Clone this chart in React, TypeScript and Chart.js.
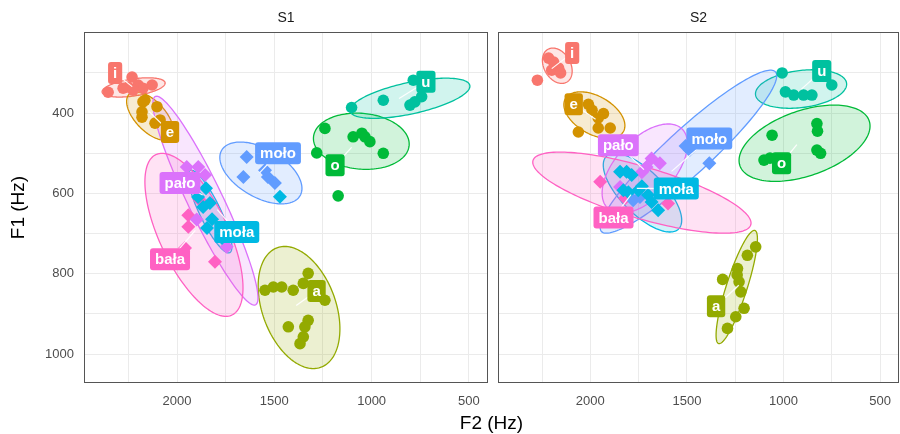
import React, { useEffect, useRef } from 'react';
import { Chart, registerables } from 'chart.js';
Chart.register(...registerables);

const FONT = '"Liberation Sans", Arial, Helvetica, sans-serif';
Chart.defaults.font.family = FONT;

const GROUPS = ['i', 'e', 'a', 'o', 'u', 'moła', 'moło', 'pało', 'bała'];
const COLORS = ['#F8766D', '#D39200', '#93AA00', '#00BA38', '#00C19F', '#00B9E3', '#619CFF', '#DB72FB', '#FF61C3'];
const SHAPES = ['circle', 'circle', 'circle', 'circle', 'circle', 'rectRot', 'rectRot', 'rectRot', 'rectRot'];

const X_TICKS = [2250, 2000, 1750, 1500, 1250, 1000, 750, 500];
const X_MAJOR = [2000, 1500, 1000, 500];
const Y_TICKS = [300, 400, 500, 600, 700, 800, 900, 1000];
const Y_MAJOR = [400, 600, 800, 1000];

// ---- S1 points [F2, F1] ----
const S1_I = [[2354, 348], [2277, 338], [2231, 310], [2252, 335], [2200, 330], [2175, 338], [2128, 330], [2226, 343]];
const S1_E = [[2175, 372], [2165, 368], [2180, 397], [2103, 384], [2180, 410], [2113, 425], [2087, 417]];
const S1_A = [[1548, 841], [1505, 833], [1462, 833], [1403, 841], [1351, 824], [1326, 799], [1240, 866], [1428, 932], [1326, 916], [1343, 932], [1351, 957], [1368, 974]];
const S1_O = [[1240, 438], [1282, 499], [1095, 459], [1050, 450], [1034, 459], [1009, 471], [940, 500], [1172, 606]];
const S1_U = [[1103, 386], [940, 368], [803, 380], [778, 372], [743, 359], [786, 318]];
const S1_MOLA = [[1851, 587], [1892, 609], [1831, 624], [1866, 634], [1820, 664], [1846, 686], [1769, 711], [1471, 608]];
const S1_MOLO = [[1642, 509], [1659, 559], [1548, 542], [1533, 559], [1497, 574]];
const S1_PALO = [[1950, 534], [1891, 534], [1899, 665], [1745, 733], [1856, 554]];
const S1_BALA = [[1942, 654], [1942, 683], [1959, 736], [1805, 770], [1882, 617]];

// ---- S2 points [F2, F1] ----
const S2_I = [[2274, 318], [2216, 263], [2190, 273], [2164, 288], [2200, 293], [2154, 300]];
const S2_E = [[1991, 393], [1932, 401], [1959, 412], [1959, 437], [1897, 437], [2062, 447], [2010, 378]];
const S2_A = [[1144, 733], [1187, 754], [1238, 787], [1240, 803], [1230, 820], [1315, 814], [1221, 845], [1204, 886], [1247, 907], [1290, 936]];
const S2_O = [[1059, 455], [1101, 517], [1070, 512], [827, 426], [824, 445], [827, 492], [808, 500]];
const S2_U = [[1007, 300], [990, 347], [947, 355], [896, 355], [853, 355], [750, 330]];
const S2_MOLA = [[1846, 546], [1812, 546], [1786, 554], [1829, 592], [1803, 597], [1752, 592], [1733, 582], [1701, 604], [1683, 621], [1649, 642]];
const S2_MOLO = [[1486, 492], [1384, 525], [1778, 617], [1507, 482], [1743, 609]];
const S2_PALO = [[1683, 513], [1640, 525], [1709, 534], [1733, 547], [1846, 584]];
const S2_BALA = [[1949, 571], [1598, 625], [1820, 612]];

// ---- ellipses [centre F2, centre F1, half-range F2, half-range F1, correlation] ----
const S1_ELLIPSES = [
  [2223, 336, 162, 24, 0.45],
  [2139, 407, 120, 60, -0.6],
  [1373, 884, 210, 152, -0.35],
  [1053, 470, 246, 70, -0.1],
  [803, 363, 308, 50, 0.6],
  [1831, 645, 113, 103, -0.85],
  [1569, 549, 211, 77, -0.5],
  [1854, 618, 270, 260, -0.93],
  [1913, 703, 252, 203, -0.65],
];
const S2_ELLIPSES = [
  [2171, 282, 77, 44, -0.3],
  [1979, 405, 158, 58, -0.45],
  [1242, 833, 107, 141, 0.85],
  [891, 475, 339, 95, 0.45],
  [909, 340, 236, 48, 0.25],
  [1730, 598, 203, 98, -0.7],
  [1492, 496, 457, 203, 0.93],
  [1718, 538, 221, 111, 0.55],
  [1733, 598, 565, 101, -0.75],
];

// ---- label anchors [F2, F1] ----
const S1_LABELS = [[2318, 300], [2036, 447], [1283, 843], [1188, 530], [721, 322], [1693, 696], [1481, 500], [1985, 574], [2036, 764]];
const S2_LABELS = [[2094, 250], [2086, 378], [1349, 881], [1010, 525], [802, 295], [1555, 588], [1384, 463], [1855, 480], [1880, 660]];

const S1_POINTS = [S1_I, S1_E, S1_A, S1_O, S1_U, S1_MOLA, S1_MOLO, S1_PALO, S1_BALA];
const S2_POINTS = [S2_I, S2_E, S2_A, S2_O, S2_U, S2_MOLA, S2_MOLO, S2_PALO, S2_BALA];

function rgba(hex: string, a: number) {
  const n = parseInt(hex.slice(1), 16);
  return `rgba(${(n >> 16) & 255},${(n >> 8) & 255},${n & 255},${a})`;
}

function panelPlugin(title: string, points: number[][][], ellipses: number[][], labels: number[][]) {
  return {
    id: 'panel' + title,
    beforeDatasetsDraw(chart: any) {
      const { ctx, chartArea, scales } = chart;
      const xs = scales.x, ys = scales.y;
      ctx.save();
      ctx.beginPath();
      ctx.rect(chartArea.left, chartArea.top, chartArea.right - chartArea.left, chartArea.bottom - chartArea.top);
      ctx.clip();
      ellipses.forEach((e, gi) => {
        const [cx, cy, rx, ry, rho] = e;
        const s = Math.sqrt(1 - rho * rho);
        ctx.beginPath();
        const N = 160;
        for (let k = 0; k <= N; k++) {
          const t = (k / N) * Math.PI * 2;
          const X = cx + rx * Math.cos(t);
          const Y = cy + ry * (rho * Math.cos(t) + s * Math.sin(t));
          const px = xs.getPixelForValue(X), py = ys.getPixelForValue(Y);
          if (k === 0) ctx.moveTo(px, py); else ctx.lineTo(px, py);
        }
        ctx.closePath();
        ctx.fillStyle = rgba(COLORS[gi], 0.18);
        ctx.fill();
        ctx.strokeStyle = COLORS[gi];
        ctx.lineWidth = 1.3;
        ctx.stroke();
      });
      ctx.restore();
    },
    afterDatasetsDraw(chart: any) {
      const { ctx, scales } = chart;
      const xs = scales.x, ys = scales.y;
      ctx.save();
      ctx.font = `bold 15px ${FONT}`;
      labels.forEach(([lx, ly], gi) => {
        const pts = points[gi];
        const mx = pts.reduce((a, p) => a + p[0], 0) / pts.length;
        const my = pts.reduce((a, p) => a + p[1], 0) / pts.length;
        const px = xs.getPixelForValue(lx), py = ys.getPixelForValue(ly);
        const cpx = xs.getPixelForValue(mx), cpy = ys.getPixelForValue(my);
        ctx.strokeStyle = 'rgba(255,255,255,0.95)';
        ctx.lineWidth = 1.2;
        ctx.beginPath();
        ctx.moveTo(px, py);
        ctx.lineTo(cpx, cpy);
        ctx.stroke();
        const text = GROUPS[gi];
        const tw = ctx.measureText(text).width;
        const w = tw + 10, h = 22;
        ctx.beginPath();
        if ((ctx as any).roundRect) (ctx as any).roundRect(px - w / 2, py - h / 2, w, h, 3);
        else ctx.rect(px - w / 2, py - h / 2, w, h);
        ctx.fillStyle = COLORS[gi];
        ctx.fill();
        ctx.fillStyle = '#ffffff';
        ctx.textAlign = 'center';
        ctx.textBaseline = 'middle';
        ctx.fillText(text, px, py + 1);
      });
      ctx.restore();
    },
    afterDraw(chart: any) {
      const { ctx, chartArea } = chart;
      ctx.save();
      ctx.strokeStyle = '#555555';
      ctx.lineWidth = 1;
      ctx.strokeRect(chartArea.left + 0.5, chartArea.top + 0.5, chartArea.right - chartArea.left - 1, chartArea.bottom - chartArea.top - 1);
      ctx.fillStyle = '#1a1a1a';
      ctx.font = `14px ${FONT}`;
      ctx.textAlign = 'center';
      ctx.textBaseline = 'middle';
      ctx.fillText(title, (chartArea.left + chartArea.right) / 2, 18);
      ctx.restore();
    },
  };
}

function makeConfig(title: string, points: number[][][], ellipses: number[][], labels: number[][], showY: boolean): any {
  return {
    type: 'scatter',
    data: {
      datasets: GROUPS.map((g, i) => ({
        label: g,
        data: points[i].map(([x, y]) => ({ x, y })),
        pointStyle: SHAPES[i],
        pointRadius: SHAPES[i] === 'circle' ? 5.8 : 7,
        backgroundColor: COLORS[i],
        borderColor: COLORS[i],
        borderWidth: 0,
      })),
    },
    options: {
      responsive: false,
      animation: false,
      events: [],
      layout: { autoPadding: false, padding: { top: 32, left: showY ? 0 : 8, right: showY ? 2 : 1, bottom: 0 } },
      plugins: { legend: { display: false }, tooltip: { enabled: false }, title: { display: false } },
      scales: {
        x: {
          type: 'linear',
          reverse: true,
          min: 402,
          max: 2478,
          afterBuildTicks: (s: any) => { s.ticks = X_TICKS.map((v) => ({ value: v })); },
          afterFit: (s: any) => { s.height = 51; s.paddingLeft = 0; s.paddingRight = 0; },
          ticks: {
            autoSkip: false,
            maxRotation: 0,
            padding: 11,
            color: '#4d4d4d',
            font: { size: 13, family: FONT },
            callback: (v: number) => (X_MAJOR.includes(v) ? String(v) : ''),
          },
          grid: { color: '#ebebeb', lineWidth: 1, drawTicks: false },
          border: { display: false },
        },
        y: {
          type: 'linear',
          reverse: true,
          min: 198,
          max: 1072,
          afterBuildTicks: (s: any) => { s.ticks = Y_TICKS.map((v) => ({ value: v })); },
          afterFit: (s: any) => { s.width = showY ? 84 : 0; s.paddingTop = 0; s.paddingBottom = 0; },
          ticks: {
            display: showY,
            autoSkip: false,
            padding: 10,
            color: '#4d4d4d',
            font: { size: 13, family: FONT },
            callback: (v: number) => (Y_MAJOR.includes(v) ? String(v) : ''),
          },
          title: {
            display: showY,
            text: 'F1 (Hz)',
            color: '#000000',
            font: { size: 19, family: FONT },
            padding: { top: 7, bottom: 0 },
          },
          grid: { color: '#ebebeb', lineWidth: 1, drawTicks: false },
          border: { display: false },
        },
      },
    },
    plugins: [panelPlugin(title, points, ellipses, labels)],
  };
}

export default function App() {
  const ref1 = useRef<HTMLCanvasElement>(null);
  const ref2 = useRef<HTMLCanvasElement>(null);
  useEffect(() => {
    const c1 = new Chart(ref1.current as HTMLCanvasElement, makeConfig('S1', S1_POINTS, S1_ELLIPSES, S1_LABELS, true));
    const c2 = new Chart(ref2.current as HTMLCanvasElement, makeConfig('S2', S2_POINTS, S2_ELLIPSES, S2_LABELS, false));
    return () => {
      c1.destroy();
      c2.destroy();
    };
  }, []);
  return (
    <div style={{ position: 'absolute', left: 0, top: 0, width: 900, height: 434, background: '#ffffff', overflow: 'hidden' }}>
      <canvas ref={ref1} width={490} height={434} style={{ position: 'absolute', left: 0, top: 0 }} />
      <canvas ref={ref2} width={410} height={434} style={{ position: 'absolute', left: 490, top: 0 }} />
      <div
        style={{
          position: 'absolute',
          left: 84,
          width: 815,
          top: 411,
          textAlign: 'center',
          fontFamily: FONT,
          fontSize: 19,
          lineHeight: '24px',
          color: '#000000',
        }}
      >
        F2 (Hz)
      </div>
    </div>
  );
}
